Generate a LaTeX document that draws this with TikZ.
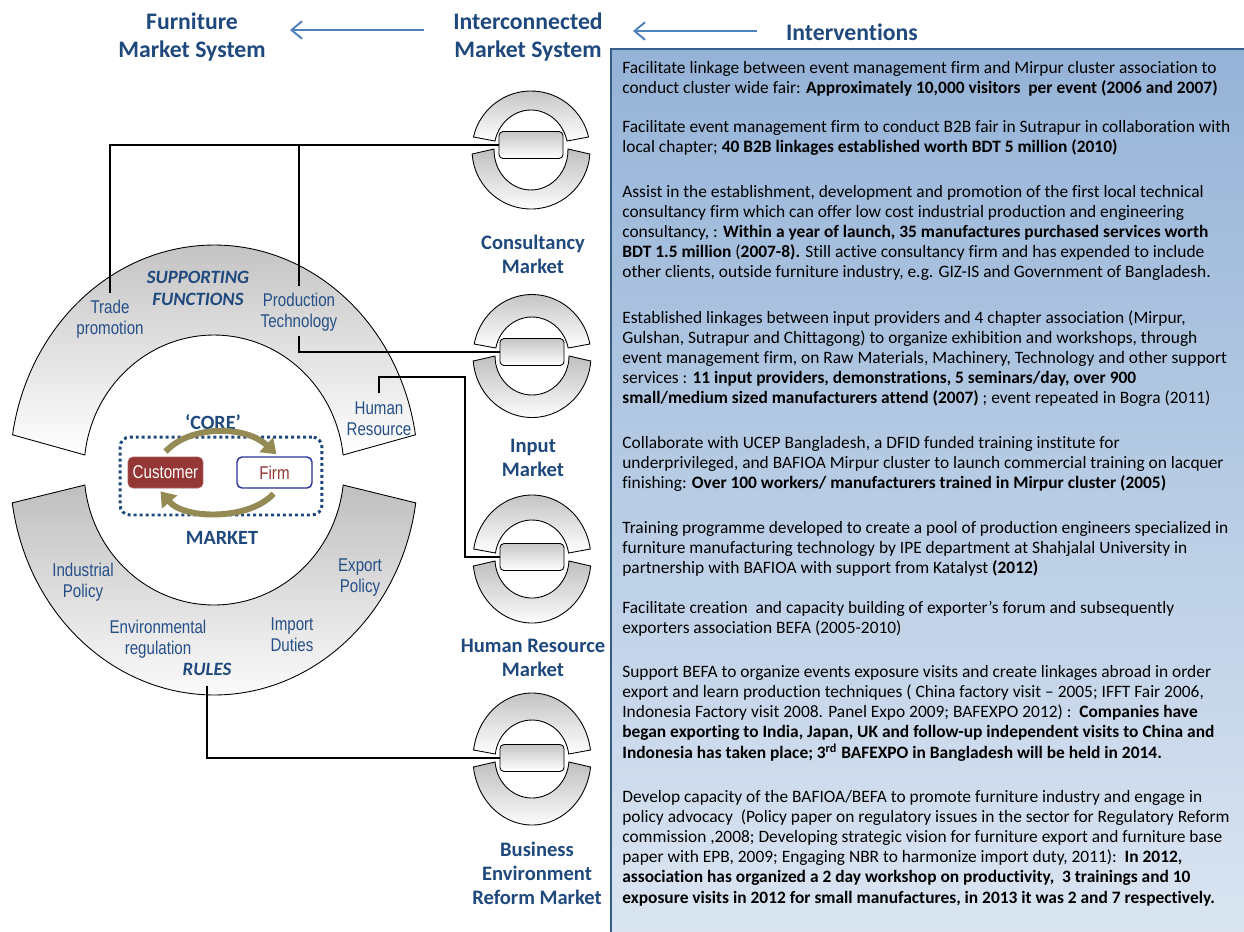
\documentclass[tikz,border=0pt]{standalone}
\usepackage{fontspec}
\setmainfont{Carlito}[Ligatures={NoCommon}]
\newfontfamily\narfont[FakeStretch=0.82]{Liberation Sans}
\usetikzlibrary{arrows.meta,calc}
\definecolor{hblue}{RGB}{31,73,125}
\definecolor{lblue}{RGB}{38,79,135}
\definecolor{abl}{RGB}{79,129,189}
\definecolor{pborder}{RGB}{56,93,138}
\definecolor{ptop}{RGB}{149,179,215}
\definecolor{pbot}{RGB}{220,230,242}
\definecolor{olivec}{RGB}{148,138,84}
\definecolor{custred}{RGB}{149,55,53}
\definecolor{firmnavy}{RGB}{40,50,150}
\tikzset{
  ringshade/.style={draw=black,line width=0.5pt,top color=gray!50,bottom color=white},
  mkrect/.style={draw=black,line width=0.5pt,rounded corners=0.08cm,top color=gray!45,bottom color=white,minimum width=1.28cm,minimum height=0.54cm,inner sep=0pt},
  conn/.style={draw=black,line width=1.4pt},
  hdr/.style={font=\bfseries\fontsize{13.5}{15.9}\selectfont,text=hblue,align=center,inner sep=0pt},
  mlabel/.style={font=\bfseries\fontsize{11.7}{13.6}\selectfont,text=hblue,align=center,inner sep=0pt},
  dlabel/.style={font=\narfont\fontsize{10.5}{11.9}\selectfont,text=lblue,align=center,inner sep=0pt},
  dtitle/.style={font=\bfseries\itshape\fontsize{10.7}{12.5}\selectfont,text=hblue,align=center,inner sep=0pt},
  ctitle/.style={font=\bfseries\fontsize{11.5}{13}\selectfont,text=hblue,inner sep=0pt},
  harrow/.style={draw=abl,line width=1.1pt,-{Straight Barb[length=6pt,width=10pt]}},
  ptext/.style={anchor=base west,inner sep=0pt,font=\fontsize{9.9}{11.5}\selectfont},
  corebox/.style={draw=hblue,line width=1.7pt,dash pattern=on 1.7pt off 1.7pt,rounded corners=0.2cm,minimum width=4.04cm,minimum height=1.56cm},
  cbox/.style={minimum width=1.5cm,minimum height=0.62cm,rounded corners=0.1cm,inner sep=0pt,font=\narfont\fontsize{10.5}{12}\selectfont},
  olivearrow/.style={draw=olivec,line width=3.4pt,-{Triangle[length=8pt,width=11pt]}}
}
% #1 name, #2 x, #3 gap y, #4 offset of ellipse centre below gap (px), #5 outer y radius (px), #6 inner y radius (px)
\newcommand\mkticon[6]{%
  \pgfmathsetmacro\tA{asin((#4+8)/#5)}%
  \pgfmathsetmacro\tB{asin((#4+4)/#6)}%
  \pgfmathsetmacro\tC{asin((#4-9)/#5)}%
  \pgfmathsetmacro\tD{asin((#4-4)/#6)}%
  \pgfmathsetmacro\ryo{#5*0.02}%
  \pgfmathsetmacro\ryi{#6*0.02}%
  \coordinate (#1o) at (#2,{#3+#4});
  \path[ringshade] ($(#1o)+(\tA:1.18cm and \ryo cm)$) arc[start angle=\tA,end angle={180-\tA},x radius=1.18cm,y radius=\ryo cm]
     -- ($(#1o)+({180-\tB}:0.74cm and \ryi cm)$) arc[start angle={180-\tB},end angle=\tB,x radius=0.74cm,y radius=\ryi cm] -- cycle;
  \path[ringshade] ($(#1o)+(\tC:1.18cm and \ryo cm)$) arc[start angle=\tC,end angle={-180-\tC},x radius=1.18cm,y radius=\ryo cm]
     -- ($(#1o)+({-180-\tD}:0.74cm and \ryi cm)$) arc[start angle={-180-\tD},end angle=\tD,x radius=0.74cm,y radius=\ryi cm] -- cycle;
  \node[mkrect] (#1) at (#2,#3) {};
}
\begin{document}
\begin{tikzpicture}[x=0.02cm,y=-0.02cm]
\useasboundingbox (0,0) rectangle (1244,931);
\fill[white] (0,0) rectangle (1244,931);

% panel
\path[draw=pborder,line width=1.6pt,top color=ptop,bottom color=pbot] (611,49) rectangle (1252,960);

% headers
\node[hdr] (fms) at (192,37) {Furniture\\Market System};
\node[hdr] (ims) at (528,37) {Interconnected\\Market System};
\node[hdr] (intv) at (852,32) {Interventions};
\coordinate (a1s) at (424,30);
\coordinate (a1e) at (290,30);
\coordinate (a2s) at (757,31);
\coordinate (a2e) at (633,31);
\draw[harrow] (a1s) -- (a1e);
\draw[harrow] (a2s) -- (a2e);

% big doughnut
\coordinate (C) at (214,470);
\path[ringshade] ($(C)+(9:4.08cm and 4.5cm)$) arc[start angle=9,end angle=171,x radius=4.08cm,y radius=4.5cm]
   -- ($(C)+(173.6:2.6cm and 2.7cm)$) arc[start angle=173.6,end angle=6.4,x radius=2.6cm,y radius=2.7cm] -- cycle;
\path[ringshade] ($(C)+(-8.4:4.08cm and 4.5cm)$) arc[start angle=-8.4,end angle=-171.6,x radius=4.08cm,y radius=4.5cm]
   -- ($(C)+(-173.6:2.6cm and 2.7cm)$) arc[start angle=-173.6,end angle=-6.4,x radius=2.6cm,y radius=2.7cm] -- cycle;

% labels in doughnut
\node[dtitle] (sf) at (198,288) {SUPPORTING\\FUNCTIONS};
\node[dlabel] (tp) at (110,319.5) {Trade\\promotion};
\node[dlabel] (pt) at (299,312.5) {Production\\Technology};
\node[dlabel] (hr) at (379,418.5) {Human\\Resource};
\node[dlabel] (ip) at (83,582.5) {Industrial\\Policy};
\node[dlabel] (ep) at (360,577.5) {Export\\Policy};
\node[dlabel] (er) at (158,639) {Environmental\\regulation};
\node[dlabel] (idu) at (292,635) {Import\\Duties};
\node[dtitle] (rules) at (207,669) {RULES};

% core
\node[corebox] (core) at (221,476) {};
\node[ctitle] (corel) at (213,422) {‘CORE’};
\node[ctitle] (mkt) at (222,538) {MARKET};
\node[cbox,fill=custred,draw=custred!80!white,text=white] (cust) at (165.5,472.5) {Customer};
\node[cbox,fill=white,draw=firmnavy,line width=0.8pt,text=custred] (firm) at (274.5,472.5) {Firm};
\draw[olivearrow] ($(cust.north)+(0,-5)$) .. controls (190,425) and (245,425) .. ($(firm.north)+(2,-2)$);
\draw[olivearrow] ($(firm.south)+(-1,5)$) .. controls (250,520) and (185,520) .. ($(cust.south)+(-5,3)$);

% market icons
\mkticon{r1}{531}{145}{5}{59}{40}
\mkticon{r2}{532}{352}{4}{61.5}{39}
\mkticon{r3}{532}{557}{2}{64}{39}
\mkticon{r4}{532}{758}{1}{66}{39}

\node[mlabel] (m1) at (533,254) {Consultancy\\Market};
\node[mlabel] (m2) at (533,458) {Input\\Market};
\node[mlabel] (m3) at (533,658) {Human Resource\\Market};
\node[mlabel] (m4) at (537,873.5) {Business\\Environment\\Reform Market};

% connectors
\coordinate (k1) at (465,377);
\draw[conn] ($(tp.north)+(0,-7)$) |- (r1.west);
\draw[conn] ($(pt.north)+(0,-7)$) -- (pt.north |- r1.west);
\draw[conn] ($(pt.south)+(0,4)$) |- (r2.west);
\draw[conn] ($(hr.north)+(0,-8)$) |- (k1) |- (r3.west);
\draw[conn] ($(rules.south)+(0,10)$) |- (r4.west);

% panel text
\node[ptext] (p1) at (622,73) {\begin{tabular}[t]{@{}l@{}}
Facilitate linkage between event management firm and Mirpur cluster association to\\
conduct cluster wide fair: \textbf{Approximately 10,000 visitors\ \ per event (2006 and 2007)}
\end{tabular}};
\node[ptext] (p2) at (622,132) {\begin{tabular}[t]{@{}l@{}}
Facilitate event management firm to conduct B2B fair in Sutrapur in collaboration with\\
local chapter; \textbf{40 B2B linkages established worth BDT 5 million (2010)}
\end{tabular}};
\node[ptext] (p3) at (622,197) {\begin{tabular}[t]{@{}l@{}}
Assist in the establishment, development and promotion of the first local technical\\
consultancy firm which can offer low cost industrial production and engineering\\
consultancy, : \textbf{Within a year of launch, 35 manufactures purchased services worth}\\
\textbf{BDT 1.5 million} (\textbf{2007-8).} Still active consultancy firm and has expended to include\\
other clients, outside furniture industry, e.g. GIZ-IS and Government of Bangladesh.
\end{tabular}};
\node[ptext] (p4) at (622,323) {\begin{tabular}[t]{@{}l@{}}
Established linkages between input providers and 4 chapter association (Mirpur,\\
Gulshan, Sutrapur and Chittagong) to organize exhibition and workshops, through\\
event management firm, on Raw Materials, Machinery, Technology and other support\\
services : \textbf{11 input providers, demonstrations, 5 seminars/day, over 900}\\
\textbf{small/medium sized manufacturers attend (2007)} ; event repeated in Bogra (2011)
\end{tabular}};
\node[ptext] (p5) at (622,448) {\begin{tabular}[t]{@{}l@{}}
Collaborate with UCEP Bangladesh, a DFID funded training institute for\\
underprivileged, and BAFIOA Mirpur cluster to launch commercial training on lacquer\\
finishing: \textbf{Over 100 workers/ manufacturers trained in Mirpur cluster (2005)}
\end{tabular}};
\node[ptext] (p6) at (622,533) {\begin{tabular}[t]{@{}l@{}}
Training programme developed to create a pool of production engineers specialized in\\
furniture manufacturing technology by IPE department at Shahjalal University in\\
partnership with BAFIOA with support from Katalyst \textbf{(2012)}
\end{tabular}};
\node[ptext] (p7) at (622,613) {\begin{tabular}[t]{@{}l@{}}
Facilitate creation\ \ and capacity building of exporter’s forum and subsequently\\
exporters association BEFA (2005-2010)
\end{tabular}};
\node[ptext] (p8) at (622,677) {\begin{tabular}[t]{@{}l@{}}
Support BEFA to organize events exposure visits and create linkages abroad in order\\
export and learn production techniques ( China factory visit – 2005; IFFT Fair 2006,\\
Indonesia Factory visit 2008. Panel Expo 2009; BAFEXPO 2012) :\ \ \textbf{Companies have}\\
\textbf{began exporting to India, Japan, UK and follow-up independent visits to China and}\\
\textbf{Indonesia has taken place; 3\textsuperscript{rd} BAFEXPO in Bangladesh will be held in 2014.}
\end{tabular}};
\node[ptext] (p9) at (622,802) {\begin{tabular}[t]{@{}l@{}}
Develop capacity of the BAFIOA/BEFA to promote furniture industry and engage in\\
policy advocacy\ \ (Policy paper on regulatory issues in the sector for Regulatory Reform\\
commission ,2008; Developing strategic vision for furniture export and furniture base\\
paper with EPB, 2009; Engaging NBR to harmonize import duty, 2011):\ \ \textbf{In 2012,}\\
\textbf{association has organized a 2 day workshop on productivity,\ \ 3 trainings and 10}\\
\textbf{exposure visits in 2012 for small manufactures, in 2013 it was 2 and 7 respectively.}
\end{tabular}};
\end{tikzpicture}
\end{document}
